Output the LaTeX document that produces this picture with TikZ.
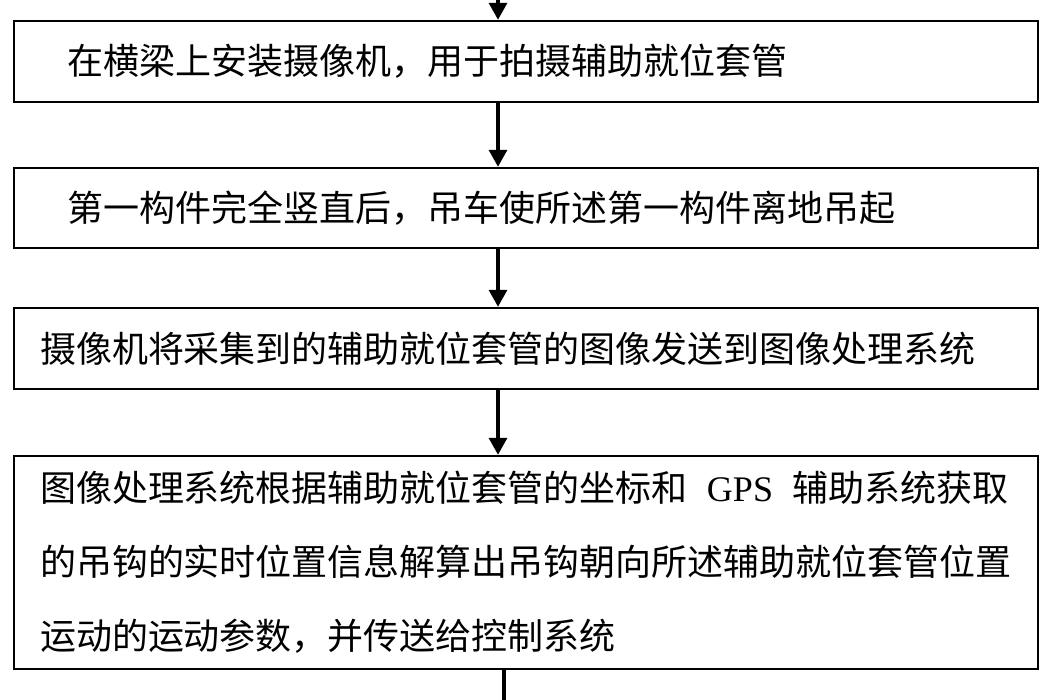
\documentclass[tikz,border=0pt]{standalone}
\usepackage{fontspec}
\setmainfont{Liberation Serif}
\newfontfamily\cjk{Noto Sans CJK SC}
\usetikzlibrary{arrows.meta}
\begin{document}
\begin{tikzpicture}[x=1pt,y=-1pt,
  stepbox/.style={draw=black, line width=2.4pt, minimum width=1024pt,
    text width=972pt, inner xsep=26pt, inner ysep=0pt, align=left,
    font=\cjk\fontsize{36}{74}\selectfont},
  flow/.style={line width=3.2pt, -{Triangle[width=18pt,length=17pt]}},
  stub/.style={line width=3.2pt}
]
\useasboundingbox (0,0) rectangle (1050,700);
\fill[white] (0,0) rectangle (1050,700);
\node[stepbox, minimum height=81pt] (b1) at (526,61.5)
  {\hspace*{28pt}在横梁上安装摄像机，用于拍摄辅助就位套管};
\node[stepbox, minimum height=80pt] (b2) at (526,208)
  {\hspace*{28pt}第一构件完全竖直后，吊车使所述第一构件离地吊起};
\node[stepbox, minimum height=81pt] (b3) at (526,348.5)
  {摄像机将采集到的辅助就位套管的图像发送到图像处理系统};
\node[stepbox, minimum height=213pt] (b4) at (526,562.5)
  {图像处理系统根据辅助就位套管的坐标和\hspace{19pt}{\rmfamily GPS}\hspace{19pt}辅助系统获取\\
   的吊钩的实时位置信息解算出吊钩朝向所述辅助就位套管位置\\
   运动的运动参数，并传送给控制系统};
\coordinate (top) at (498,0);
\coordinate (bot) at (504,700);
\draw[flow] (top) -- (b1.north -| top);
\draw[flow] (b1.south -| top) -- (b2.north -| top);
\draw[flow] (b2.south -| top) -- (b3.north -| top);
\draw[flow] (b3.south -| top) -- (b4.north -| top);
\draw[stub] (b4.south -| bot) -- (bot);
\end{tikzpicture}
\end{document}
